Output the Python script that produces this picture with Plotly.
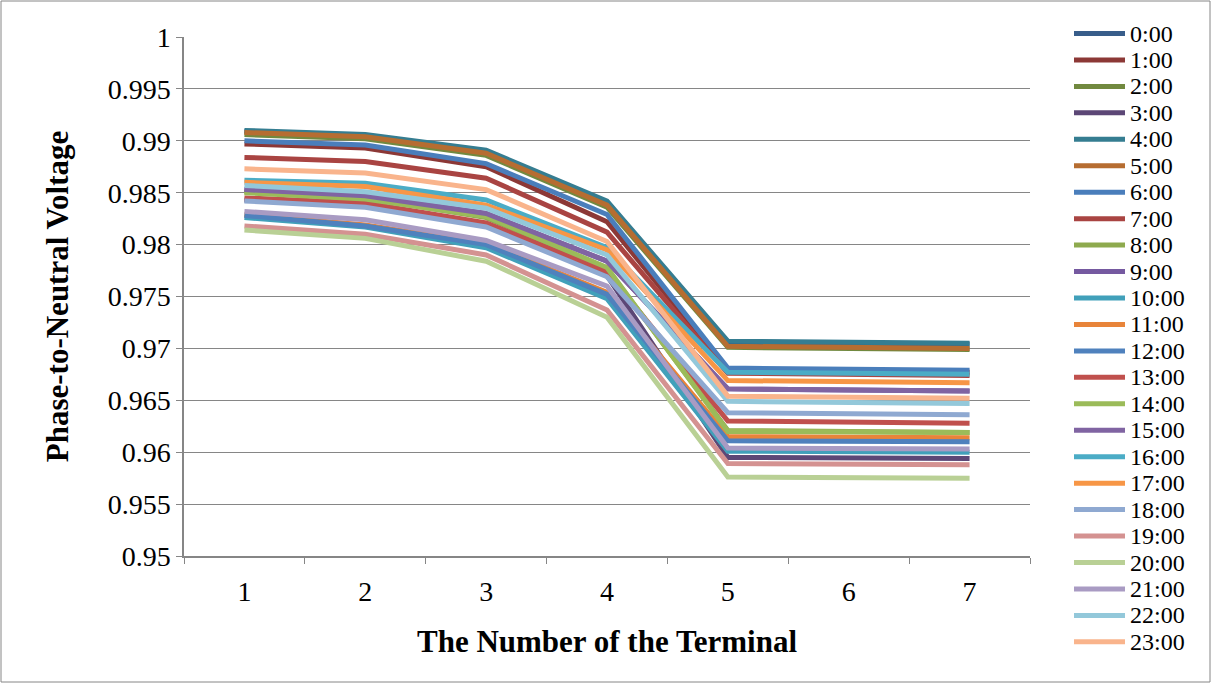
import plotly.graph_objects as go

terminals = ["1", "2", "3", "4", "5", "6", "7"]
hours = ["0:00", "1:00", "2:00", "3:00", "4:00", "5:00", "6:00", "7:00",
         "8:00", "9:00", "10:00", "11:00", "12:00", "13:00", "14:00", "15:00",
         "16:00", "17:00", "18:00", "19:00", "20:00", "21:00", "22:00", "23:00"]

v_0000 = [0.9909, 0.9905, 0.9890, 0.9841, 0.9706, 0.9705, 0.9704]
v_0100 = [0.9897, 0.9893, 0.9875, 0.9822, 0.9679, 0.9678, 0.9677]
v_0200 = [0.9906, 0.9902, 0.9886, 0.9836, 0.9701, 0.9700, 0.9699]
v_0300 = [0.9843, 0.9837, 0.9818, 0.9770, 0.9595, 0.9594, 0.9594]
v_0400 = [0.9910, 0.9906, 0.9891, 0.9842, 0.9707, 0.9706, 0.9705]
v_0500 = [0.9908, 0.9904, 0.9888, 0.9838, 0.9702, 0.9701, 0.9700]
v_0600 = [0.9900, 0.9896, 0.9878, 0.9829, 0.9681, 0.9680, 0.9679]
v_0700 = [0.9884, 0.9880, 0.9864, 0.9812, 0.9676, 0.9675, 0.9674]
v_0800 = [0.9851, 0.9845, 0.9826, 0.9777, 0.9621, 0.9620, 0.9619]
v_0900 = [0.9853, 0.9847, 0.9830, 0.9784, 0.9661, 0.9660, 0.9659]
v_1000 = [0.9826, 0.9817, 0.9797, 0.9748, 0.9601, 0.9600, 0.9600]
v_1100 = [0.9829, 0.9819, 0.9801, 0.9754, 0.9615, 0.9614, 0.9614]
v_1200 = [0.9828, 0.9818, 0.9800, 0.9752, 0.9611, 0.9610, 0.9610]
v_1300 = [0.9845, 0.9840, 0.9821, 0.9774, 0.9630, 0.9629, 0.9628]
v_1400 = [0.9850, 0.9844, 0.9827, 0.9778, 0.9620, 0.9619, 0.9619]
v_1500 = [0.9853, 0.9847, 0.9830, 0.9784, 0.9661, 0.9660, 0.9659]
v_1600 = [0.9862, 0.9859, 0.9843, 0.9797, 0.9677, 0.9676, 0.9675]
v_1700 = [0.9860, 0.9856, 0.9838, 0.9795, 0.9669, 0.9668, 0.9667]
v_1800 = [0.9842, 0.9836, 0.9817, 0.9769, 0.9638, 0.9637, 0.9636]
v_1900 = [0.9818, 0.9810, 0.9790, 0.9737, 0.9589, 0.9588, 0.9588]
v_2000 = [0.9814, 0.9806, 0.9784, 0.9730, 0.9576, 0.9575, 0.9575]
v_2100 = [0.9832, 0.9824, 0.9804, 0.9760, 0.9604, 0.9603, 0.9603]
v_2200 = [0.9857, 0.9851, 0.9835, 0.9790, 0.9649, 0.9648, 0.9647]
v_2300 = [0.9873, 0.9869, 0.9853, 0.9803, 0.9654, 0.9653, 0.9652]

series_values = [v_0000, v_0100, v_0200, v_0300, v_0400, v_0500, v_0600, v_0700,
                 v_0800, v_0900, v_1000, v_1100, v_1200, v_1300, v_1400, v_1500,
                 v_1600, v_1700, v_1800, v_1900, v_2000, v_2100, v_2200, v_2300]

colors = ["#385D8A", "#8C3836", "#71893F", "#5C4776", "#357D91", "#B66D31",
          "#4A7EBB", "#A94442", "#8EAA4E", "#7559A0", "#41A0BA", "#E8843A",
          "#4F81BD", "#C0504D", "#9BBB59", "#8064A2", "#4BACC6", "#F79646",
          "#8FA9D1", "#D49291", "#B9D095", "#A99BC3", "#93C8DA", "#F9B48C"]

y_ticks = [0.95, 0.955, 0.96, 0.965, 0.97, 0.975, 0.98, 0.985, 0.99, 0.995, 1.0]
y_tick_text = ["0.95", "0.955", "0.96", "0.965", "0.97", "0.975", "0.98", "0.985", "0.99", "0.995", "1"]

FONT = "Liberation Serif"

W, H = 1212, 684
L, R, T, B = 184, 182, 37, 128
pw, ph = W - L - R, H - T - B


def px_x(p):
    return (p - L) / pw


def px_y(p):
    return 1 - (p - T) / ph


fig = go.Figure()
for name, vals, col in zip(hours, series_values, colors):
    fig.add_trace(go.Scatter(x=terminals, y=vals, mode="lines", name=name,
                             line=dict(color=col, width=5), showlegend=False))

# legend drawn as swatches + real text
shapes = []
annotations = []
for i, (name, col) in enumerate(zip(hours, colors)):
    yc = px_y(33.5 + 26.45 * i)
    shapes.append(dict(type="line", xref="paper", yref="paper",
                       x0=px_x(1074), x1=px_x(1125), y0=yc, y1=yc,
                       line=dict(color=col, width=5)))
    annotations.append(dict(xref="paper", yref="paper", x=px_x(1129), y=yc,
                            xanchor="left", yanchor="middle", showarrow=False,
                            text=name, borderpad=0,
                            font=dict(family=FONT, size=24, color="black")))

shapes.append(dict(type="rect", xref="paper", yref="paper",
                   x0=px_x(1), x1=px_x(W - 2), y0=px_y(H - 2), y1=px_y(1),
                   line=dict(color="#868686", width=1), fillcolor="rgba(0,0,0,0)",
                   layer="below"))

fig.update_layout(
    width=W, height=H,
    margin=dict(l=L, r=R, t=T, b=B),
    paper_bgcolor="white", plot_bgcolor="white",
    font=dict(family=FONT, color="black", size=28),
    showlegend=False,
    xaxis=dict(type="category", range=[-0.5, 6.5], tickson="boundaries",
               ticks="outside", ticklen=6, tickcolor="#868686",
               showline=True, linecolor="#868686", linewidth=1.5,
               showgrid=False, tickfont=dict(size=28, family=FONT),
               ticklabelstandoff=10,
               title=dict(text="<b>The Number of the Terminal</b>",
                          font=dict(size=31, family=FONT), standoff=24)),
    yaxis=dict(range=[0.95, 1.0], tickvals=y_ticks, ticktext=y_tick_text,
               ticks="outside", ticklen=6, tickcolor="#868686",
               showline=True, linecolor="#868686", linewidth=1.5,
               showgrid=True, gridcolor="#868686", gridwidth=1.2,
               tickfont=dict(size=28, family=FONT),
               title=dict(text="<b>Phase-to-Neutral Voltage</b>",
                          font=dict(size=31, family=FONT), standoff=30)),
    shapes=shapes,
    annotations=annotations,
)

fig.write_html("out.html", config={"displayModeBar": False},
               post_script="document.body.style.margin='0px';document.body.style.overflow='hidden';")
